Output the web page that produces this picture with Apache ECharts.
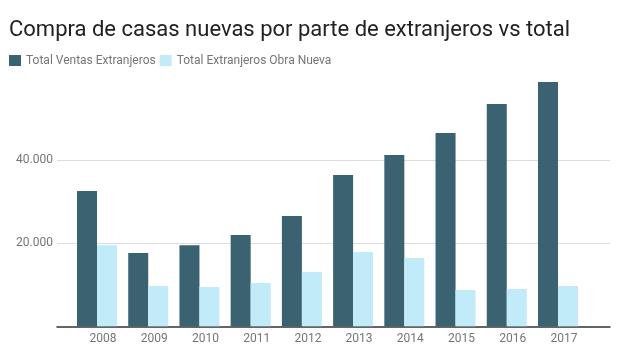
<!DOCTYPE html>
<html><head><meta charset="utf-8">
<script src="https://cdn.jsdelivr.net/npm/echarts@6/dist/echarts.min.js"></script>
<style>html,body{margin:0;padding:0;background:#fff}#c{width:621px;height:355px}</style>
</head><body><div id="c"></div>
<script>
const years = ['2008','2009','2010','2011','2012','2013','2014','2015','2016','2017'];
const totalVentasExtranjeros = [32600, 17660, 19520, 22000, 26580, 36460, 41280, 46580, 53570, 58870];
const totalExtranjerosObraNueva = [19520, 9710, 9470, 10430, 13080, 17900, 16460, 8750, 8990, 9710];
const seriesNames = ['Total Ventas Extranjeros', 'Total Extranjeros Obra Nueva'];
const chartTitle = 'Compra de casas nuevas por parte de extranjeros vs total';

const chart = echarts.init(document.getElementById('c'), null, {renderer: 'canvas'});
const font = 'Roboto';
const fmt = v => String(v).replace(/\B(?=(\d{3})+(?!\d))/g, '.');
const gTop = 77.3, gBottom = 28.7;
chart.setOption({
  animation: false,
  textStyle: {fontFamily: font},
  title: {text: chartTitle, left: 9, top: 19, padding: 0,
    textStyle: {fontFamily: font, fontSize: 22, fontWeight: 'normal', color: '#212121'}},
  legend: {left: 9, top: 54.5, padding: 0, itemWidth: 12, itemHeight: 11, itemGap: 4,
    icon: 'rect', data: seriesNames,
    textStyle: {fontFamily: font, fontSize: 12, color: '#757575'}},
  grid: [
    {left: 57, right: 11, top: gTop, bottom: gBottom},
    {left: 71.4, width: 512.2, top: gTop, bottom: gBottom},
    {left: 77.4, width: 512.2, top: gTop, bottom: gBottom}
  ],
  xAxis: [
    {gridIndex: 0, type: 'value', min: 0, max: 1, axisLabel: {show: false}, axisTick: {show: false},
     splitLine: {show: false}, axisLine: {show: true, lineStyle: {color: '#333', width: 1.5}}},
    {gridIndex: 1, type: 'category', data: years, axisLabel: {show: false}, axisTick: {show: false},
     axisLine: {show: false}},
    {gridIndex: 2, type: 'category', data: years, axisTick: {show: false}, axisLine: {show: false},
     axisLabel: {fontFamily: font, fontSize: 12, color: '#757575', margin: 7}}
  ],
  yAxis: [
    {gridIndex: 0, type: 'value', min: 0, max: 60000, interval: 20000,
     axisLine: {show: false}, axisTick: {show: false},
     axisLabel: {fontFamily: font, fontSize: 12, color: '#757575', margin: 4, showMaxLabel: false, showMinLabel: false,
       formatter: v => fmt(v)},
     splitLine: {show: true, showMaxLine: false, showMinLine: false, lineStyle: {color: '#dcdcdc', width: 1}}},
    {gridIndex: 1, type: 'value', min: 0, max: 60000, interval: 20000, show: false},
    {gridIndex: 2, type: 'value', min: 0, max: 60000, interval: 20000, show: false}
  ],
  series: [
    {name: seriesNames[0], type: 'bar', xAxisIndex: 1, yAxisIndex: 1, data: totalVentasExtranjeros,
     itemStyle: {color: '#3a6270'}, barGap: '0%', barCategoryGap: '21.9%', z: 1},
    {name: seriesNames[1], type: 'bar', xAxisIndex: 1, yAxisIndex: 1, data: totalExtranjerosObraNueva,
     itemStyle: {color: '#c2ebfa'}, barGap: '0%', barCategoryGap: '21.9%', z: 1}
  ]
});
</script></body></html>
